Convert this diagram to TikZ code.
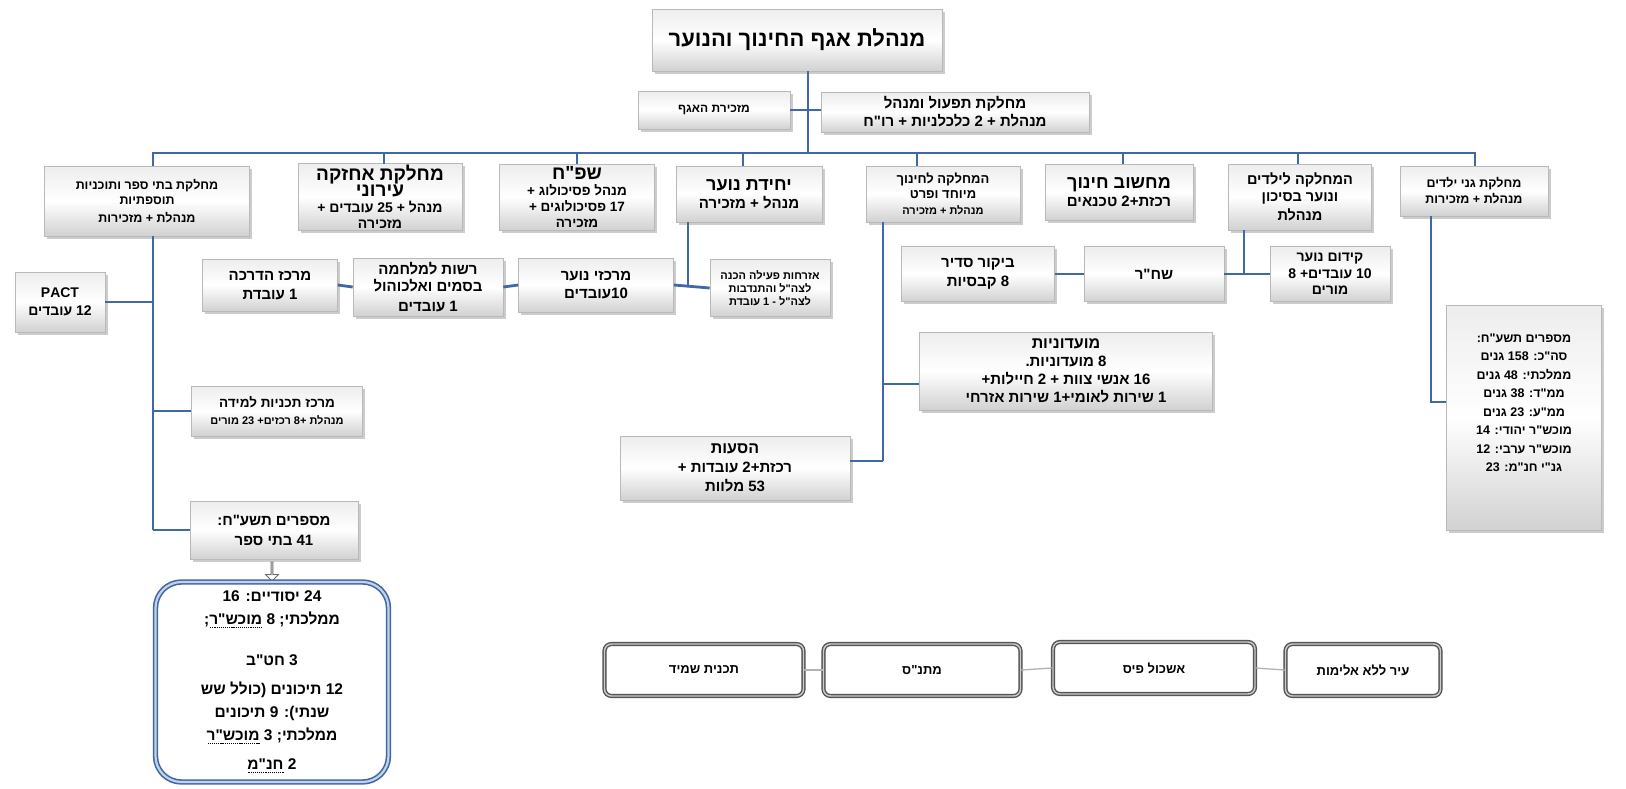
\documentclass[tikz,border=0pt]{standalone}
\usepackage{fontspec}
\setmainfont{Liberation Sans}
\newfontfamily\heb[Script=Hebrew]{Liberation Sans}
\TeXXeTstate=1
\usetikzlibrary{shadows,shapes.arrows}
\definecolor{linkblue}{RGB}{62,104,168}
\definecolor{framegray}{RGB}{85,85,85}
\newcommand\RL[1]{\beginR#1\endR}
\newcommand\fs[2]{\fontsize{#1}{#2}\selectfont}
% word with a red spell-check underline
\newcommand\sq[1]{\setbox0=\hbox{#1}\vtop{\offinterlineskip\copy0\kern2pt
  \hbox to \wd0{\color{red!85!black}\xleaders\hbox{\rule{1.2pt}{0.9pt}\kern0.9pt}\hfill}}}
\tikzset{
  box/.style={draw=gray!55, line width=0.6pt, top color=gray!14, bottom color=gray!36,
    middle color=white, drop shadow={shadow xshift=2.5pt, shadow yshift=-2.5pt, opacity=0.4},
    align=center, font=\heb\bfseries\fs{13}{15.5}, inner sep=2pt},
  conn/.style={draw=linkblue, line width=2.8pt},
  thinconn/.style={draw=gray!60, line width=1.3pt},
  roundbox/.style={draw=framegray, line width=1.4pt, double=gray!40, double distance=1.4pt,
    rounded corners=7pt, fill=white, minimum height=52pt, align=center,
    font=\heb\bfseries\fs{13}{15.5}},
}
\begin{document}
\begin{tikzpicture}[x=1pt, y=-1pt]
\useasboundingbox (0,0) rectangle (1626,788);

% ---- head of department and staff units
\node[box, minimum width=290pt, minimum height=62pt, font=\heb\bfseries\fs{22}{26}] (top) at (797,40)
  {\RL{מנהלת אגף החינוך והנוער}};
\node[box, minimum width=152pt, minimum height=38pt, font=\heb\bfseries\fs{12}{14}] (sec) at (714,110)
  {\RL{מזכירת האגף}};
\node[box, minimum width=268pt, minimum height=40pt, font=\heb\bfseries\fs{15}{18}] (taf) at (955,112)
  {\RL{מחלקת תפעול ומנהל}\\\RL{מנהלת + 2 כלכלניות + רו"ח}};

% ---- departments
\node[box, minimum width=205pt, minimum height=70pt, font=\heb\bfseries\fs{12.5}{15}] (b1) at (147,201)
  {\RL{מחלקת בתי ספר ותוכניות}\\\RL{תוספתיות}\\[3pt]\RL{מנהלת + מזכירות}};
\node[box, minimum width=164pt, minimum height=66pt, font=\heb\bfseries\fs{14}{16}] (b2) at (380,197)
  {{\fs{19}{20}\RL{מחלקת אחזקה}}\\{\fs{19}{22}\RL{עירוני}}\\\RL{מנהל + 25 עובדים +}\\\RL{מזכירה}};
\node[box, minimum width=155pt, minimum height=66pt, font=\heb\bfseries\fs{13.5}{16}] (b3) at (577,197)
  {{\fs{19}{20}\RL{שפ"ח}}\\\RL{מנהל פסיכולוג +}\\\RL{17 פסיכולוגים +}\\\RL{מזכירה}};
\node[box, minimum width=146pt, minimum height=56pt, font=\heb\bfseries\fs{15}{18}] (b4) at (749,194)
  {{\fs{18}{21}\RL{יחידת נוער}}\\\RL{מנהל + מזכירה}};
\node[box, minimum width=154pt, minimum height=56pt, font=\heb\bfseries\fs{13}{14.5}] (b5) at (943,194)
  {\RL{המחלקה לחינוך}\\\RL{מיוחד ופרט}\\[2pt]{\fs{11}{13}\RL{מנהלת + מזכירה}}};
\node[box, minimum width=148pt, minimum height=56pt, font=\heb\bfseries\fs{15}{18}] (b6) at (1119,192)
  {{\fs{18}{21}\RL{מחשוב חינוך}}\\\RL{רכזת+2 טכנאים}};
\node[box, minimum width=143pt, minimum height=66pt, font=\heb\bfseries\fs{14.5}{17}] (b7) at (1300,197)
  {\RL{המחלקה לילדים}\\\RL{ונוער בסיכון}\\[2pt]\RL{מנהלת}};
\node[box, minimum width=148pt, minimum height=50pt, font=\heb\bfseries\fs{12.5}{16}] (b8) at (1474,191)
  {\RL{מחלקת גני ילדים}\\\RL{מנהלת + מזכירות}};

% ---- schools branch
\node[box, minimum width=90pt, minimum height=60pt, font=\heb\bfseries\fs{14}{18}] (pact) at (60,302)
  {PACT\\\RL{12 עובדים}};
\node[box, minimum width=171pt, minimum height=50pt, font=\heb\bfseries\fs{13.5}{17}] (learn) at (277,411)
  {\RL{מרכז תכניות למידה}\\{\fs{11}{13}\RL{מנהלת +8 רכזים+ 23 מורים}}};
\node[box, minimum width=168pt, minimum height=58pt, font=\heb\bfseries\fs{15}{20}] (schoolnum) at (274,530)
  {\RL{מספרים תשע"ח:}\\\RL{41 בתי ספר}};
\node[single arrow, draw=gray!85!black, line width=0.8pt, fill=white, shape border rotate=270,
  minimum height=19pt, minimum width=13pt, single arrow head extend=2.5pt, inner sep=0pt] (down) at (272,571) {};
\node[draw=linkblue, line width=1.6pt, double=linkblue!30!white, double distance=2.2pt,
  rounded corners=26pt, fill=white, minimum width=233pt, minimum height=200pt, align=center,
  font=\heb\bfseries\fs{15.5}{23}] (schooltypes) at (272,682)
  {\RL{24 יסודיים: 16}\\\RL{ממלכתי; 8 \sq{מוכש"ר};}\\[18pt]\RL{3 חט"ב}\\[6pt]
   \RL{12 תיכונים (כולל שש}\\\RL{שנתי): 9 תיכונים}\\\RL{ממלכתי; 3 \sq{מוכש"ר}}\\[6pt]\RL{2 \sq{חנ"מ}}};

% ---- youth branch
\node[box, minimum width=135pt, minimum height=52pt, font=\heb\bfseries\fs{15}{19}] (guide) at (270,285)
  {\RL{מרכז הדרכה}\\\RL{1 עובדת}};
\node[box, minimum width=150pt, minimum height=58pt, font=\heb\bfseries\fs{15}{17.5}] (drugs) at (428,287)
  {\RL{רשות למלחמה}\\\RL{בסמים ואלכוהול}\\[2pt]\RL{1 עובדים}};
\node[box, minimum width=155pt, minimum height=54pt, font=\heb\bfseries\fs{15}{18}] (youthc) at (596,285)
  {\RL{מרכזי נוער}\\\RL{10עובדים}};
\node[box, minimum width=120pt, minimum height=57pt, font=\heb\bfseries\fs{11}{13}] (civic) at (770,288)
  {\RL{אזרחות פעילה הכנה}\\\RL{לצה"ל והתנדבות}\\\RL{לצה"ל - 1 עובדת}};

% ---- special education branch
\node[box, minimum width=293pt, minimum height=78pt, font=\heb\bfseries\fs{15}{18}] (clubs) at (1066,371)
  {{\fs{16}{18}\RL{מועדוניות}}\\\RL{8 מועדוניות.}\\\RL{16 אנשי צוות + 2 חיילות+}\\\RL{1 שירות לאומי+1 שירות אזרחי}};
\node[box, minimum width=230pt, minimum height=64pt, font=\heb\bfseries\fs{15}{19}] (rides) at (735,468)
  {{\fs{16}{18}\RL{הסעות}}\\\RL{רכזת+2 עובדות +}\\\RL{53 מלוות}};

% ---- youth at risk branch
\node[box, minimum width=120pt, minimum height=55pt, font=\heb\bfseries\fs{14}{16.5}] (promo) at (1330,274)
  {\RL{קידום נוער}\\\RL{10 עובדים+ 8}\\\RL{מורים}};
\node[box, minimum width=140pt, minimum height=55pt, font=\heb\bfseries\fs{15}{18}] (shahar) at (1154,274)
  {\RL{שח"ר}};
\node[box, minimum width=153pt, minimum height=55pt, font=\heb\bfseries\fs{15}{19}] (visit) at (978,274)
  {\RL{ביקור סדיר}\\\RL{8 קבסיות}};

% ---- kindergarten figures (text set a little above the middle)
\node[box, minimum width=155pt, minimum height=225pt, font=\heb\bfseries\fs{12.5}{18.5}] (kgnum) at (1524,418)
  {\RL{מספרים תשע"ח:}\\\RL{סה"כ: 158 גנים}\\\RL{ממלכתי: 48 גנים}\\\RL{ממ"ד: 38 גנים}\\
   \RL{ממ"ע: 23 גנים}\\\RL{מוכש"ר יהודי: 14}\\\RL{מוכש"ר ערבי: 12}\\\RL{גנ"י חנ"מ: 23}\\[12pt]\mbox{}};

% ---- programmes row
\node[roundbox, minimum width=155pt] (noviol) at (1363,670) {\RL{עיר ללא אלימות}};
\node[roundbox, minimum width=202pt] (pais) at (1154,668) {\RL{אשכול פיס}};
\node[roundbox, minimum width=197pt] (matnas) at (922,670) {\RL{מתנ"ס}};
\node[roundbox, minimum width=199pt] (shmid) at (704,670) {\RL{תכנית שמיד}};

% ---- connectors
\coordinate (busL) at (153,153);
\coordinate (busR) at (1475,153);
\coordinate (trunk) at (808,153);
\draw[conn] (trunk |- top.south) -- (trunk);
\draw[conn] (sec.east) -- (sec.east -| taf.west);
\draw[conn, line cap=rect] (busL) -- (busR);
\draw[conn] (busL) -- (busL |- b1.north);
\draw[conn] (384,153) -- (384,164);
\draw[conn] (577,153) -- (577,164);
\draw[conn] (743,153) -- (743,166);
\draw[conn] (917,153) -- (917,166);
\draw[conn] (1123,153) -- (1123,164);
\draw[conn] (1298,153) -- (1298,164);
\draw[conn] (busR) -- (busR |- b8.north);

% schools
\coordinate (sdrop) at (153,530);
\draw[conn] (busL |- b1.south) -- (sdrop);
\draw[conn] (pact.east) -- (pact.east -| sdrop);
\draw[conn] (learn.west) -- (learn.west -| sdrop);
\draw[conn] (schoolnum.west) -- (sdrop);

% youth
\coordinate (ydrop) at (688,287);
\draw[conn] (ydrop |- b4.south) -- (ydrop);
\draw[conn] (youthc.east) -- (civic.west);
\draw[conn] (drugs.east) -- (youthc.west);
\draw[conn] (guide.east) -- (drugs.west);

% special education
\coordinate (edrop) at (883,461);
\coordinate (clubsin) at (883,384);
\draw[conn] (edrop |- b5.south) -- (edrop);
\draw[conn] (clubsin) -- (clubsin -| clubs.west);
\draw[conn] (edrop) -- (edrop -| rides.east);

% youth at risk
\coordinate (rdrop) at (1244,274);
\draw[conn] (rdrop |- b7.south) -- (rdrop);
\draw[conn] (shahar.east) -- (promo.west);
\draw[conn] (visit.east) -- (shahar.west);

% kindergartens
\coordinate (kdrop) at (1431,402);
\draw[conn] (kdrop |- b8.south) -- (kdrop) -- (kdrop -| kgnum.west);

% programmes
\draw[thinconn] (noviol.west) -- (pais.east);
\draw[thinconn] (pais.west) -- (matnas.east);
\draw[thinconn] (matnas.west) -- (shmid.east);
\end{tikzpicture}
\end{document}
